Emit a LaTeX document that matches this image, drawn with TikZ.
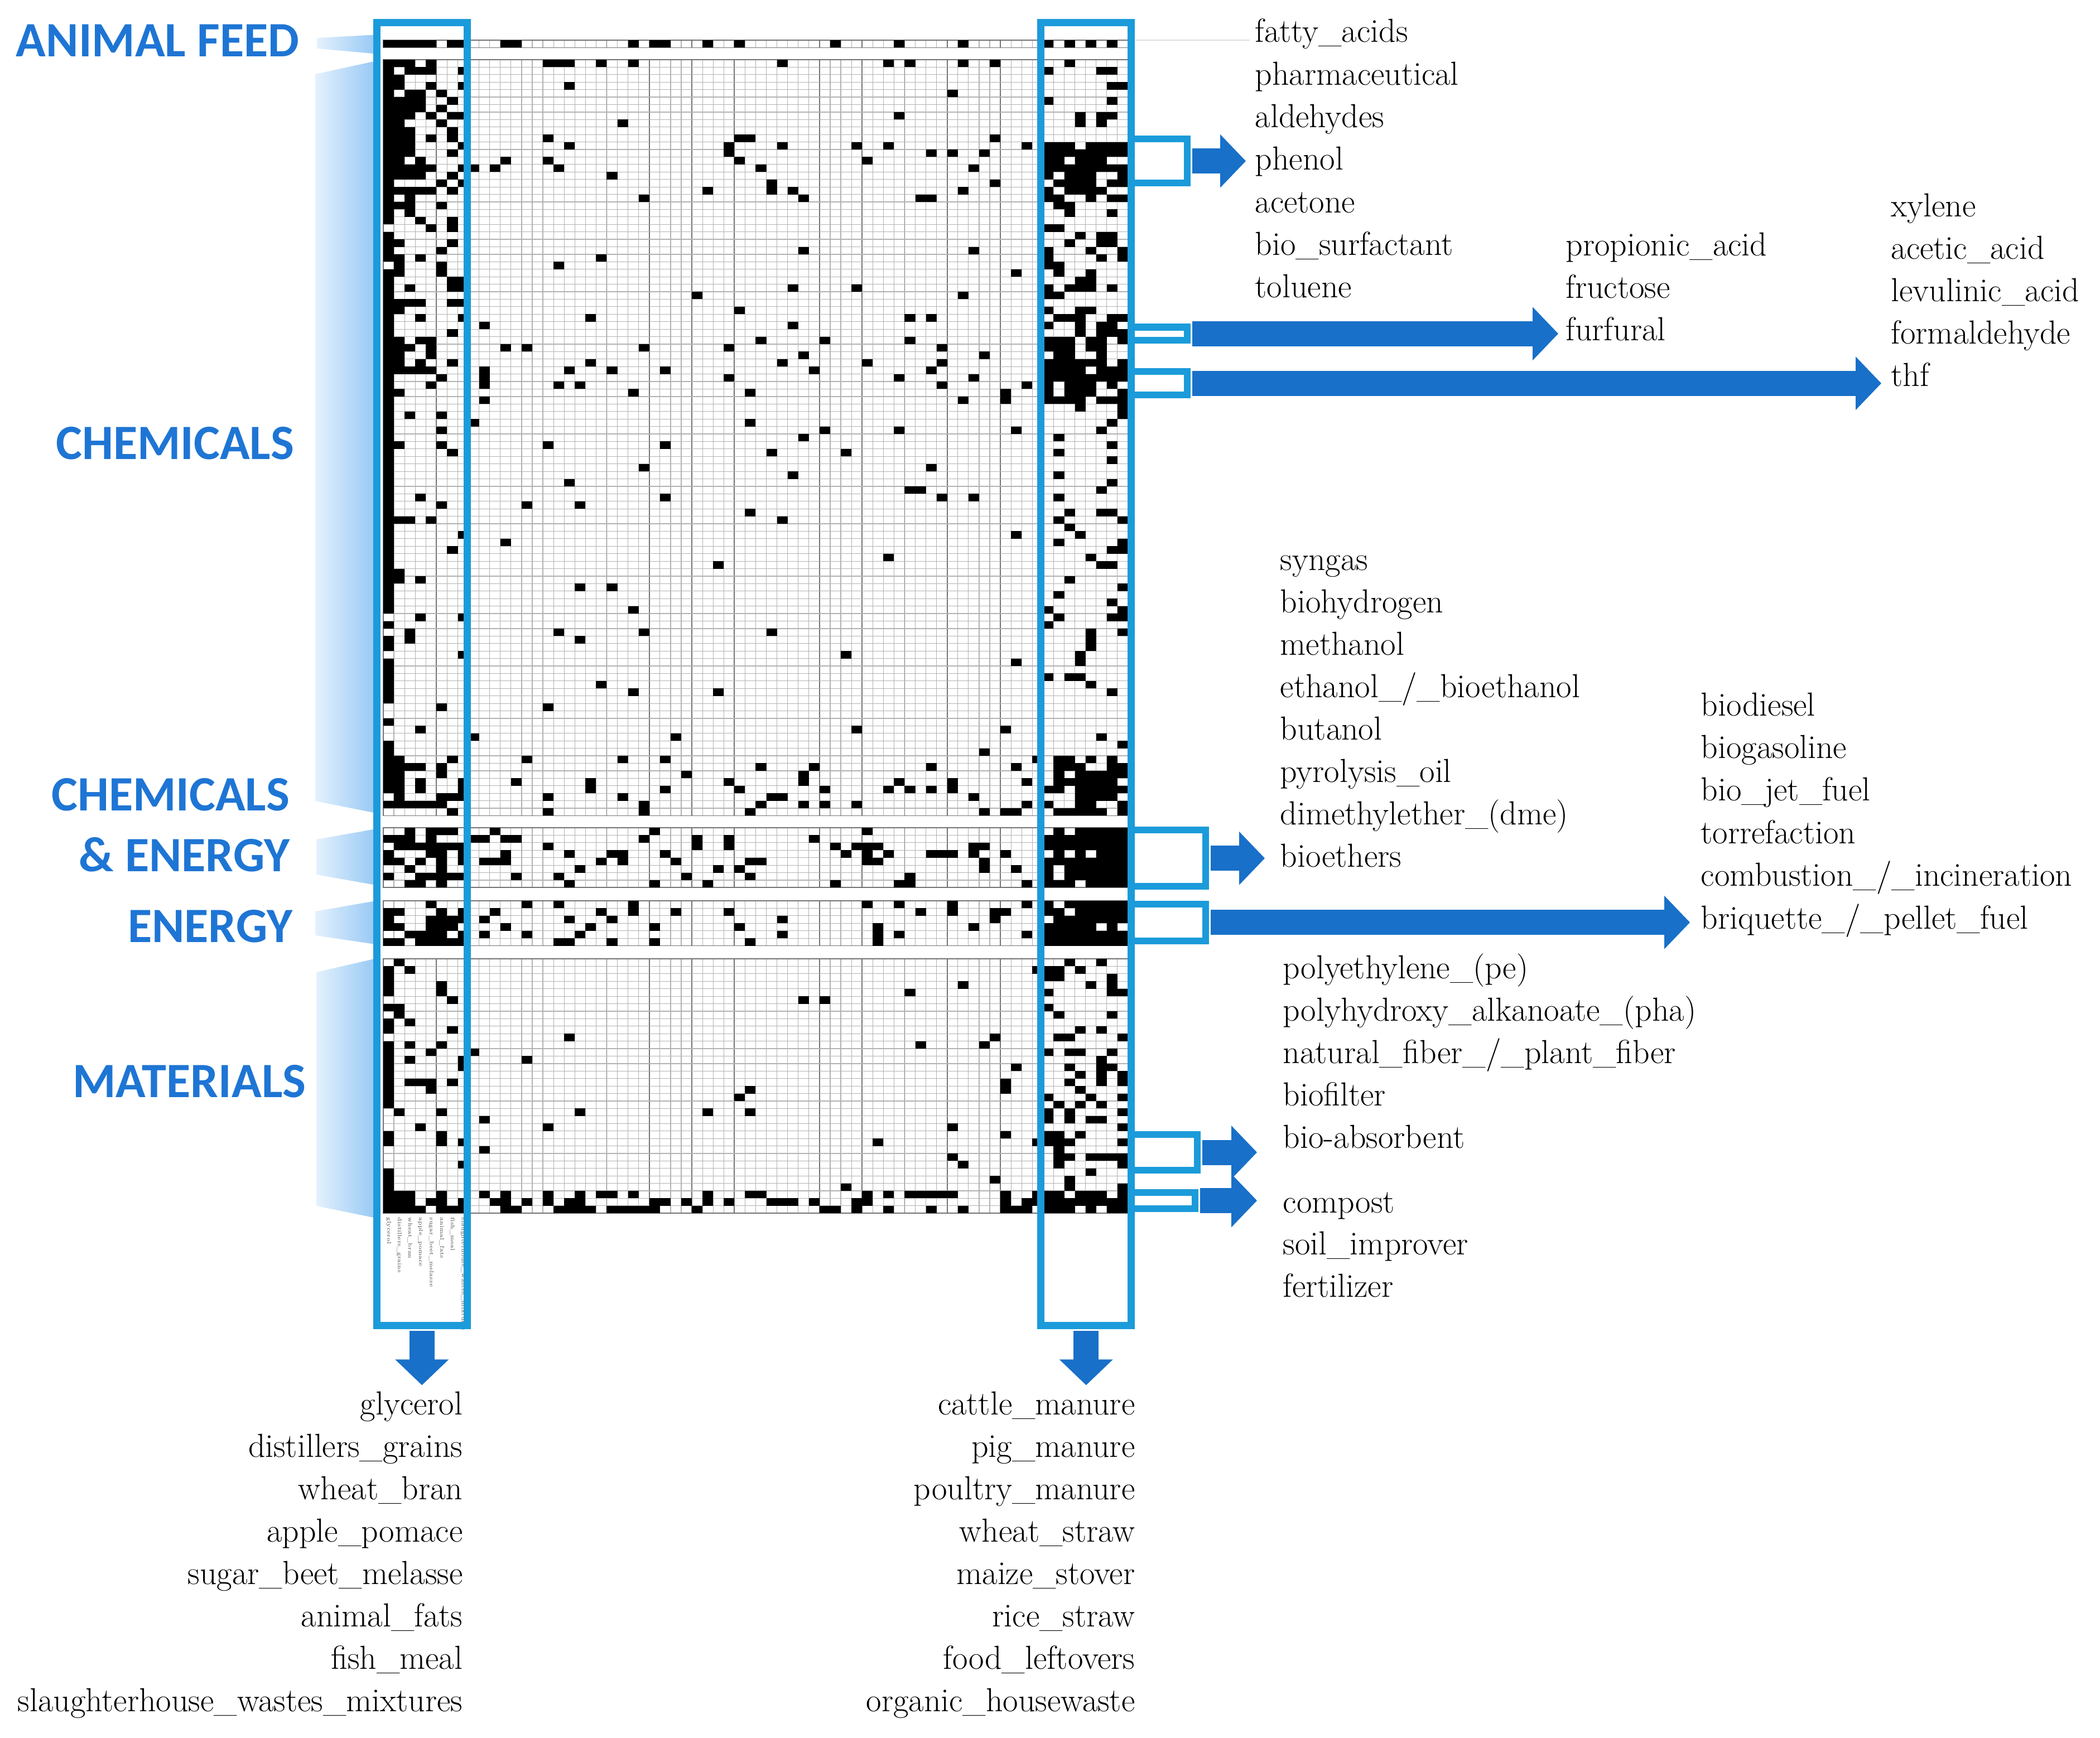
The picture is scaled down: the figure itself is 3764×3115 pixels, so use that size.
\documentclass[tikz,border=0pt]{standalone}
\usepackage{fontspec}
\newfontfamily\headfont{Carlito}
\usetikzlibrary{arrows.meta}

\definecolor{boxblue}{RGB}{27,155,218}
\definecolor{arrowblue}{RGB}{24,112,200}
\definecolor{headblue}{RGB}{30,117,212}
\definecolor{fanlight}{RGB}{228,241,253}
\definecolor{fandark}{RGB}{146,198,244}

\tikzset{
  gridline/.style={gray!60, line width=0.012cm},
  gridmajor/.style={gray!90!black, line width=0.018cm},
  cell/.style={fill=black},
  srcbox/.style={draw=boxblue, line width=0.13cm, minimum width=1.62cm, minimum height=23.35cm, inner sep=0pt},
  hlbox/.style={draw=boxblue, line width=0.12cm, inner sep=0pt},
  fatarrow/.style={draw=arrowblue, line width=0.45cm, -{Triangle[length=0.46cm,width=0.93cm]}, shorten <=0.03cm},
  sector/.style={font=\headfont\bfseries\fontsize{25.2}{30}\selectfont, text=headblue, inner sep=0pt, anchor=base east},
  prod/.style={font=\fontsize{17}{20}\selectfont, inner sep=0pt, anchor=base west},
  feed/.style={prod, anchor=base east},
  collab/.style={font=\fontsize{2.9}{3.2}\selectfont, text=gray!60!black, inner sep=0pt, rotate=-90, anchor=west},
  fan/.style={left color=fanlight, right color=fandark}
}

% grid of one block of rows: top, number of rows
\newcommand\matgrid[2]{%
  \foreach \k in {0,...,70}
    \draw[gridline] (687+\k*19.07,#1) -- ++(0,#2*13.42);
  \foreach \k in {5,8,21,25,29,33,41,45,49,53,58,62}
    \draw[gridmajor] (687+\k*19.07,#1) -- ++(0,#2*13.42);
  \foreach \k in {0,...,#2}
    \draw[gridline] (687,#1+\k*13.42) -- ++(1335,0);
  \draw[gridmajor] (687,#1) rectangle ++(1335,#2*13.42);
}

% black cells of one block: top, last row, density
\newcommand\matcells[3]{%
  \foreach \ri in {0,...,#2}{
    \foreach \ci in {0,...,69}{
      \pgfmathsetmacro\cellp{#3}
      \pgfmathrnd
      \ifdim\pgfmathresult pt<\cellp pt
        \fill[cell] (687+\ci*19.07,#1+\ri*13.42) rectangle ++(19.07,13.42);
      \fi
    }
  }
}

\begin{document}
\begin{tikzpicture}[x=0.01cm, y=-0.01cm]
  \useasboundingbox (0,0) rectangle (3764,3115);
  \pgfmathsetseed{7}

  % bandes bleues vers la matrice
  \shade[fan] (568,68) -- (680,62) -- (680,97) -- (568,87) -- cycle;
  \shade[fan] (565,133) -- (680,108) -- (680,1459) -- (565,1436) -- cycle;
  \shade[fan] (567,1505) -- (680,1485) -- (680,1588) -- (567,1568) -- cycle;
  \shade[fan] (565,1634) -- (680,1614) -- (680,1694) -- (565,1677) -- cycle;
  \shade[fan] (567,1743) -- (680,1717) -- (680,2185) -- (567,2162) -- cycle;

  % grilles
  \matgrid{72}{1}
  \matgrid{107}{101}
  \matgrid{1484}{8}
  \matgrid{1615}{6}
  \matgrid{1719}{34}

  % animal feed
  \foreach \ci in {0,...,4,6,7,11,12,23,25,26,30,33,42,48,...,58,62,64,...,69}
    \fill[cell] (687+\ci*19.07,72) rectangle ++(19.07,13.42);

  % chemicals
  \matcells{107}{100}{(\ci==0) ? (\ri<70 ? 0.9 : 0.6) :
    ((\ci<3) ? (\ri<20 ? 0.7 : (\ri<45 ? 0.3 : (\ri>92 ? 0.4 : 0.1))) :
    ((\ci<8) ? (\ri<20 ? 0.35 : (\ri<45 ? 0.2 : (\ri>92 ? 0.4 : 0.05))) :
    ((\ci<62) ? (\ri==0 ? 0.2 : ((\ri>9 && \ri<19) ? 0.07 : ((\ri>33 && \ri<46) ? 0.06 : (\ri>92 ? 0.1 : 0.015)))) :
    (\ri<11 ? 0.15 : (\ri<19 ? 0.8 : (\ri<34 ? 0.3 : (\ri<46 ? 0.6 : (\ri>92 ? 0.6 : 0.15))))))))}

  % chemicals & energy, energy
  \matcells{1484}{7}{(\ci<8) ? 0.55 : ((\ci<62) ? 0.14 : 0.85)}
  \matcells{1615}{5}{(\ci<8) ? 0.5 : ((\ci<62) ? 0.12 : 0.8)}

  % materials
  \matcells{1719}{33}{(\ri>30) ? ((\ci<8) ? 0.55 : ((\ci<62) ? 0.35 : 0.9)) :
    ((\ci==0) ? 0.6 : ((\ci<8) ? 0.12 : ((\ci<62) ? 0.025 : 0.3)))}

  % noms des colonnes
  \foreach \t [count=\i from 0] in {glycerol, distillers\_grains, wheat\_bran, apple\_pomace,
      sugar\_beet\_melasse, animal\_fats, fish\_meal, slaughterhouse\_wastes\_mixtures}
    \node[collab] (col-\i) at (696.5+19.07*\i,2182) {\t};

  \draw[gray!25, line width=0.02cm] (2035,72) -- (2240,72);

  % cadres
  \node[srcbox] (feedbox) at (756.25,1208.75) {};
  \node[srcbox] (wastebox) at (1946.75,1208.75) {};
  \node[hlbox, minimum width=1.005cm, minimum height=0.785cm] (hlphenol) at (2077.75,288.75) {};
  \node[hlbox, minimum width=1.005cm, minimum height=0.235cm] (hlfurfural) at (2077.75,598.25) {};
  \node[hlbox, minimum width=1.005cm, minimum height=0.415cm] (hlthf) at (2077.75,687.25) {};
  \node[hlbox, minimum width=1.335cm, minimum height=1.005cm] (hlcheen) at (2094.25,1538.75) {};
  \node[hlbox, minimum width=1.335cm, minimum height=0.655cm] (hlenergy) at (2094.25,1653.75) {};
  \node[hlbox, minimum width=1.185cm, minimum height=0.64cm] (hlabsorb) at (2086.75,2066) {};
  \node[hlbox, minimum width=1.145cm, minimum height=0.29cm] (hlcompost) at (2084.75,2152.5) {};

  % fleches
  \draw[fatarrow] (hlphenol.east) -- ++(99,0);
  \draw[fatarrow] (hlfurfural.east) -- ++(659,0);
  \draw[fatarrow] (hlthf.east) -- ++(1238,0);
  \draw[fatarrow] (hlcheen.east) -- ++(100,0);
  \draw[fatarrow] (hlenergy.east) -- ++(862,0);
  \draw[fatarrow] (hlabsorb.east) -- ++(101,0);
  \draw[fatarrow] (hlcompost.east) -- ++(105,0);
  \draw[fatarrow] (feedbox.south) -- ++(0,100);
  \draw[fatarrow] (wastebox.south) -- ++(0,100);

  % secteurs
  \node[sector] (hdfeed) at (537,102) {ANIMAL FEED};
  \node[sector] (hdchem) at (528,823) {CHEMICALS};
  \node[sector] (hdchemen) at (520,1453) {CHEMICALS};
  \node[sector] (hdand) at (520,1562) {\& ENERGY};
  \node[sector] (hdenergy) at (525,1689) {ENERGY};
  \node[sector] (hdmat) at (549,1967) {MATERIALS};

  % produits
  \foreach \t [count=\i from 0] in {fatty\_acids, pharmaceutical, aldehydes, phenol,
      acetone, bio\_surfactant, toluene}
    \node[prod] (chemA-\i) at (2249,76+76.3*\i) {\t};
  \foreach \t [count=\i from 0] in {propionic\_acid, fructose, furfural}
    \node[prod] (chemB-\i) at (2806,458+76.2*\i) {\t};
  \foreach \t [count=\i from 0] in {xylene, acetic\_acid, levulinic\_acid, formaldehyde, thf}
    \node[prod] (chemC-\i) at (3389,388+76.2*\i) {\t};
  \foreach \t [count=\i from 0] in {syngas, biohydrogen, methanol, ethanol\_/\_bioethanol,
      butanol, pyrolysis\_oil, dimethylether\_(dme), bioethers}
    \node[prod] (cheen-\i) at (2294,1022+76*\i) {\t};
  \foreach \t [count=\i from 0] in {biodiesel, biogasoline, bio\_jet\_fuel, torrefaction,
      combustion\_/\_incineration, briquette\_/\_pellet\_fuel}
    \node[prod] (energy-\i) at (3048,1283+76.4*\i) {\t};
  \foreach \t [count=\i from 0] in {polyethylene\_(pe), polyhydroxy\_alkanoate\_(pha),
      natural\_fiber\_/\_plant\_fiber, biofilter, bio-absorbent}
    \node[prod] (mat-\i) at (2299,1754+76*\i) {\t};
  \foreach \t [count=\i from 0] in {compost, soil\_improver, fertilizer}
    \node[prod] (soil-\i) at (2299,2174+75.5*\i) {\t};

  % matieres premieres
  \foreach \t [count=\i from 0] in {glycerol, distillers\_grains, wheat\_bran, apple\_pomace,
      sugar\_beet\_melasse, animal\_fats, fish\_meal, slaughterhouse\_wastes\_mixtures}
    \node[feed] (feed-\i) at (830,2536+76.1*\i) {\t};
  \foreach \t [count=\i from 0] in {cattle\_manure, pig\_manure, poultry\_manure, wheat\_straw,
      maize\_stover, rice\_straw, food\_leftovers, organic\_housewaste}
    \node[feed] (waste-\i) at (2035,2536+76.1*\i) {\t};
\end{tikzpicture}
\end{document}
